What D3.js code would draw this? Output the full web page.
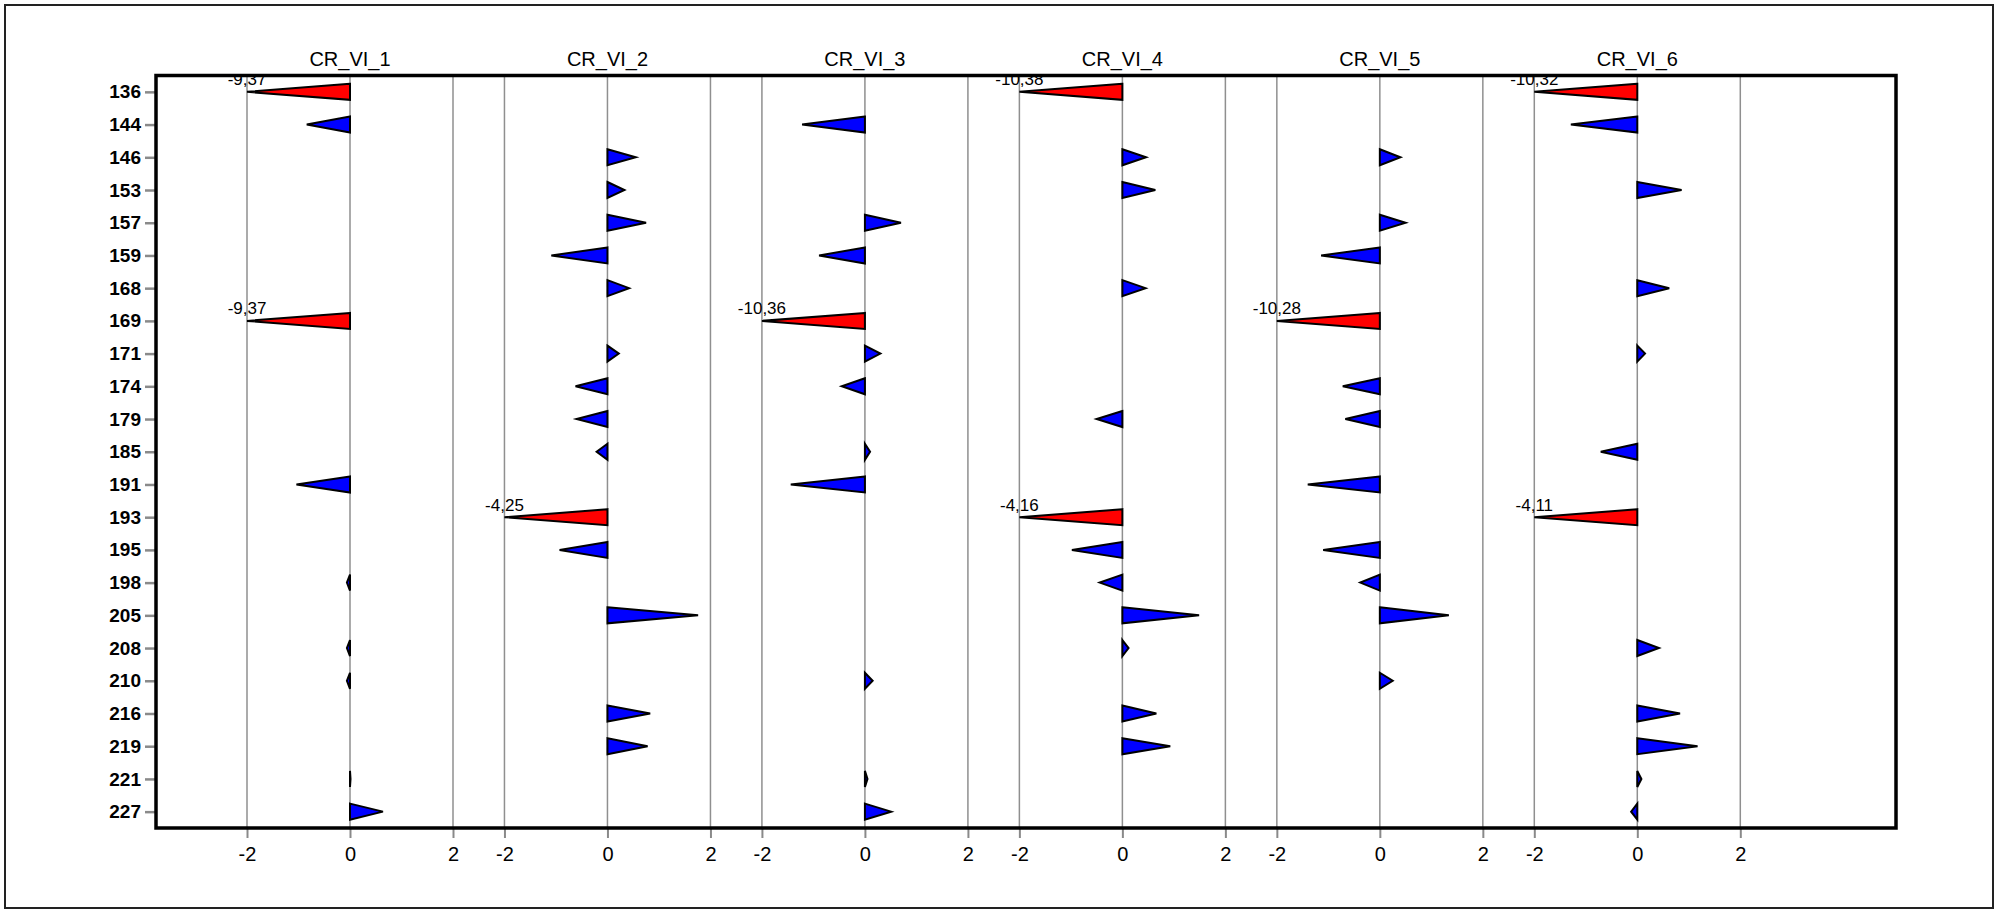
<!DOCTYPE html>
<html>
<head>
<meta charset="utf-8">
<script src="https://cdn.jsdelivr.net/npm/d3@7/dist/d3.min.js"></script>
<style>
  body { margin: 0; background: #fff; }
  svg { display: block; font-family: "Liberation Sans", Arial, sans-serif; }
</style>
</head>
<body>
<svg id="svg" width="1999" height="913"></svg>
<script>
var rows = ["136","144","146","153","157","159","168","169","171","174","179","185",
            "191","193","195","198","205","208","210","216","219","221","227"];
var panels = ["CR_VI_1","CR_VI_2","CR_VI_3","CR_VI_4","CR_VI_5","CR_VI_6"];
var xTicks = [-2, 0, 2];

// null = no mark for that row
var vi1 = [-9.37,-0.84,null,null,null,null,null,-9.37,null,null,null,null,
           -1.04,null,null,-0.06,null,-0.06,-0.06,null,null,0.01,0.64];
var vi2 = [null,null,0.55,0.33,0.75,-1.09,0.42,null,0.22,-0.62,-0.6,-0.21,
           null,-4.25,-0.93,null,1.76,null,null,0.83,0.78,null,null];
var vi3 = [null,-1.22,null,null,0.7,-0.89,null,-10.36,0.3,-0.45,null,0.1,
           -1.44,null,null,null,null,null,0.15,null,null,0.05,0.51];
var vi4 = [-10.38,null,0.46,0.64,null,null,0.45,null,null,null,-0.5,null,
           null,-4.16,-0.98,-0.44,1.49,0.12,null,0.66,0.93,null,null];
var vi5 = [null,null,0.4,null,0.5,-1.14,null,-10.28,null,-0.72,-0.67,null,
           -1.4,null,-1.1,-0.38,1.34,null,0.25,null,null,null,null];
var vi6 = [-10.32,-1.29,null,0.86,null,null,0.62,null,0.15,null,null,-0.71,
           null,-4.11,null,null,null,0.42,null,0.83,1.17,0.08,-0.12];
var series = [vi1, vi2, vi3, vi4, vi5, vi6];

var svg = d3.select("#svg");
var plot = {left: 156, right: 1896, top: 75.5, bottom: 828};
var limit = -2;   // values below are clipped and labelled
var half = 8;     // half height of a wedge

var locale = d3.formatLocale({decimal: ",", thousands: ".", grouping: [3], currency: ["", ""], minus: "-"});
var fmt = locale.format(".2f");

var yScale = d3.scalePoint().domain(rows).range([plot.top, plot.bottom]).padding(0.5);
var panelScale = d3.scalePoint().domain(panels).range([350, 1637.3]);
var xScale = d3.scaleLinear().domain([-2, 2]).range([-103, 103]);

// outer frame
svg.append("rect")
    .attr("x", 5).attr("y", 5).attr("width", 1988).attr("height", 903)
    .attr("fill", "none").attr("stroke", "#222").attr("stroke-width", 2);

svg.append("clipPath").attr("id", "plotClip")
    .append("rect")
    .attr("x", plot.left).attr("y", plot.top)
    .attr("width", plot.right - plot.left).attr("height", plot.bottom - plot.top);

panels.forEach(function(name, p) {
    var g = svg.append("g").attr("transform", "translate(" + panelScale(name) + ",0)");

    g.selectAll("line.grid")
        .data(xTicks)
        .enter().append("line")
        .attr("class", "grid")
        .attr("x1", function(d) { return xScale(d); })
        .attr("x2", function(d) { return xScale(d); })
        .attr("y1", plot.top).attr("y2", plot.bottom)
        .attr("stroke", "#8f8f8f").attr("stroke-width", 1.5);

    g.append("text")
        .attr("x", xScale(0)).attr("y", 66)
        .attr("text-anchor", "middle")
        .attr("font-size", 20)
        .text(name);

    var xAxis = g.append("g")
        .attr("transform", "translate(0," + plot.bottom + ")")
        .call(d3.axisBottom(xScale).tickValues(xTicks).tickSize(10).tickPadding(9).tickFormat(locale.format("d")));
    xAxis.select(".domain").remove();
    xAxis.selectAll(".tick line").attr("stroke", "#8a8a8a").attr("stroke-width", 2);
    xAxis.selectAll(".tick text").attr("font-size", 20).attr("font-family", null).attr("fill", "#000");

    var pts = rows.map(function(r, i) { return {row: r, v: series[p][i]}; })
        .filter(function(d) { return d.v !== null; });

    var marks = g.append("g").attr("clip-path", "url(#plotClip)")
        .attr("transform", "translate(" + -panelScale(name) + ",0)");
    var inner = marks.append("g").attr("transform", "translate(" + panelScale(name) + ",0)");

    inner.selectAll("path.wedge")
        .data(pts)
        .enter().append("path")
        .attr("class", "wedge")
        .attr("d", function(d) {
            var y = yScale(d.row);
            var xv = xScale(Math.max(d.v, limit));
            return "M" + xScale(0) + "," + (y - half) + "L" + xv + "," + y + "L" + xScale(0) + "," + (y + half) + "Z";
        })
        .attr("fill", function(d) { return d.v < limit ? "#ff0000" : "#0000ff"; })
        .attr("stroke", "#000").attr("stroke-width", 2);

    inner.selectAll("text.val")
        .data(pts.filter(function(d) { return d.v < limit; }))
        .enter().append("text")
        .attr("class", "val")
        .attr("x", xScale(limit))
        .attr("y", function(d) { return yScale(d.row) - 6.5; })
        .attr("text-anchor", "middle")
        .attr("font-size", 17)
        .text(function(d) { return fmt(d.v); });
});

// row axis
var yAxis = svg.append("g")
    .attr("transform", "translate(" + plot.left + ",0)")
    .call(d3.axisLeft(yScale).tickSize(11).tickPadding(4));
yAxis.select(".domain").remove();
yAxis.selectAll(".tick line").attr("stroke", "#8a8a8a").attr("stroke-width", 2.5);
yAxis.selectAll(".tick text").attr("font-size", 19).attr("font-weight", "bold")
    .attr("font-family", null).attr("fill", "#000");

// plot frame
svg.append("rect")
    .attr("x", plot.left).attr("y", plot.top)
    .attr("width", plot.right - plot.left).attr("height", plot.bottom - plot.top)
    .attr("fill", "none").attr("stroke", "#000").attr("stroke-width", 3.5);
</script>
</body>
</html>
